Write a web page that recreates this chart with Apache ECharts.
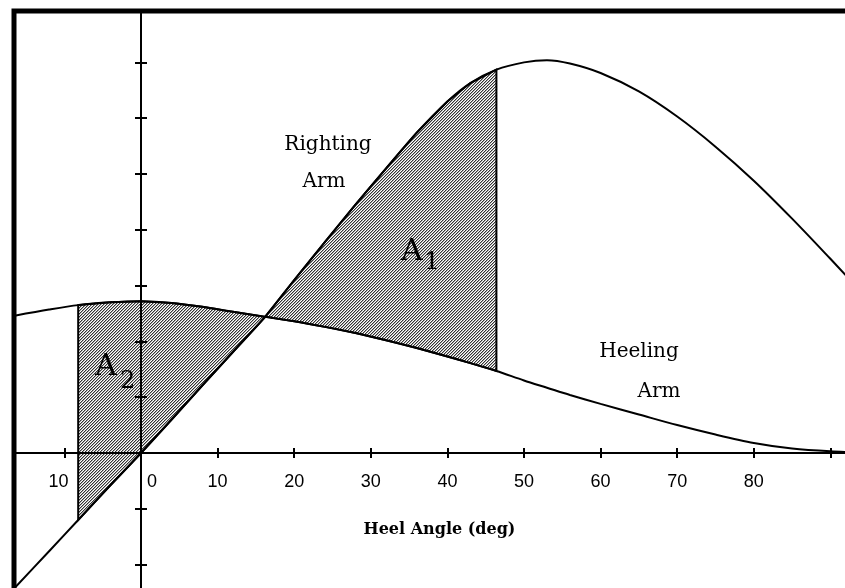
<!DOCTYPE html>
<html>
<head>
<meta charset="utf-8">
<title>Righting Arm / Heeling Arm</title>
<script src="https://cdn.jsdelivr.net/npm/echarts@6/dist/echarts.min.js"></script>
<style>
    html, body { margin: 0; padding: 0; background: #fff; }
    #main { width: 845px; height: 588px; }
</style>
</head>
<body>
<div id="main"></div>
<script>
    // heel angle (deg) at which both curves were read
    const heelAngles  = [-16.5, -12, -8.2, -4, 0, 4, 8, 12, 16.2, 20, 24, 28, 32, 36, 40, 43, 46.4, 50, 53, 56, 60, 65, 70, 75, 80, 85, 90, 94.5];
    const rightingArm = [-2.42, -1.76, -1.20, -0.58, 0, 0.60, 1.21, 1.81, 2.44, 3.10, 3.78, 4.45, 5.10, 5.74, 6.30, 6.63, 6.87, 7.00, 7.04, 6.98, 6.81, 6.48, 6.03, 5.49, 4.88, 4.20, 3.48, 2.82];
    const heelingArm  = [2.46, 2.57, 2.65, 2.70, 2.72, 2.69, 2.62, 2.53, 2.44, 2.36, 2.26, 2.15, 2.02, 1.88, 1.73, 1.61, 1.47, 1.30, 1.17, 1.04, 0.88, 0.69, 0.50, 0.33, 0.18, 0.08, 0.03, 0.01];

    // limits of the shaded areas (deg)
    const a2Start = -8.2;
    const crossAngle = 16.2;
    const a1End = 46.4;

    const xTickValues = [-10, 0, 10, 20, 30, 40, 50, 60, 70, 80];
    const xTickLabels = ['10', '0', '10', '20', '30', '40', '50', '60', '70', '80'];

    function pairs(values) {
        return heelAngles.map((a, i) => [a, values[i]]);
    }
    function between(values, from, to) {
        return pairs(values).filter(p => p[0] >= from && p[0] <= to);
    }
    // upper curve forward, lower curve back
    const areaA1 = between(rightingArm, crossAngle, a1End).concat(between(heelingArm, crossAngle, a1End).reverse());
    const areaA2 = between(heelingArm, a2Start, crossAngle).concat(between(rightingArm, a2Start, crossAngle).reverse());

    // hatching used for the areas
    const hatch = document.createElement('canvas');
    hatch.width = 3;
    hatch.height = 3;
    const hctx = hatch.getContext('2d');
    hctx.fillStyle = '#fff';
    hctx.fillRect(0, 0, 3, 3);
    for (let i = 0; i < 3; i++) {
        hctx.fillStyle = '#333';
        hctx.fillRect(i, 2 - i, 1, 1);
        hctx.fillStyle = '#aaa';
        hctx.fillRect(i, (3 - i) % 3, 1, 1);
    }

    function areaSeries(points) {
        return {
            type: 'custom',
            silent: true,
            z: -1,
            data: [[0, 0]],
            renderItem: (params, api) => ({
                type: 'polygon',
                shape: { points: points.map(p => api.coord(p)) },
                style: { fill: { image: hatch, repeat: 'repeat' }, stroke: '#000', lineWidth: 2 }
            })
        };
    }

    const black = '#000';
    const tickFont = { fontFamily: 'Liberation Sans', fontSize: 18, color: black };

    // grid runs past the right and bottom edges of the page
    const gridTop = 11, gridBottom = -20;
    const xMin = -16.58, xMax = 94.52;
    const yMin = -2.778, yMax = 7.921;
    const gridHeight = 588 - gridTop - gridBottom;
    const zeroLift = -gridHeight * (0 - yMin) / (yMax - yMin);

    const xBase = {
        type: 'value', min: xMin, max: xMax, splitNumber: 11, position: 'bottom',
        splitLine: { show: false }
    };
    const yBase = {
        type: 'value', min: yMin, max: yMax, splitNumber: 10, position: 'left',
        splitLine: { show: false }, axisLabel: { show: false }
    };

    const chart = echarts.init(document.getElementById('main'));
    chart.setOption({
        animation: false,
        grid: {
            left: 14, top: gridTop, right: -20, bottom: gridBottom,
            outerBoundsMode: 'none', containLabel: false,
            show: true, borderColor: black, borderWidth: 5
        },
        xAxis: [
            Object.assign({}, xBase, {
                axisLine: { onZero: true, onZeroAxisIndex: 0, lineStyle: { color: black, width: 2 } },
                axisTick: { length: 5, lineStyle: { color: black, width: 2 } },
                axisLabel: { show: false }
            }),
            Object.assign({}, xBase, {
                axisLine: { onZero: true, onZeroAxisIndex: 1, lineStyle: { color: black, width: 2 } },
                axisTick: { inside: true, length: 5, lineStyle: { color: black, width: 2 } },
                axisLabel: { show: false }
            }),
            // labels and name only, lifted up to the zero line
            Object.assign({}, xBase, {
                offset: zeroLift,
                axisLine: { show: false, onZero: false },
                axisTick: { show: false },
                axisLabel: Object.assign({}, tickFont, {
                    margin: 20,
                    formatter: v => {
                        const i = xTickValues.findIndex(t => Math.abs(t - v) < 1e-6);
                        if (i < 0) return '';
                        if (xTickValues[i] === 0) return '{z|' + xTickLabels[i] + '}';
                        if (xTickValues[i] < 0) return '{n|' + xTickLabels[i] + '}';
                        return xTickLabels[i];
                    },
                    rich: {
                        z: Object.assign({}, tickFont, { padding: [0, 0, 0, 22] }),
                        n: Object.assign({}, tickFont, { padding: [0, 12, 0, 0] })
                    }
                }),
                name: 'Heel Angle (deg)',
                nameLocation: 'middle',
                nameGap: 69,
                nameTextStyle: { fontFamily: 'DejaVu Serif', fontWeight: 'bold', fontSize: 16, color: black }
            })
        ],
        yAxis: [
            Object.assign({}, yBase, {
                axisLine: { show: true, onZero: true, onZeroAxisIndex: 0, lineStyle: { color: black, width: 2 } },
                axisTick: { show: true, length: 6, lineStyle: { color: black, width: 2 } }
            }),
            Object.assign({}, yBase, {
                axisLine: { show: true, onZero: true, onZeroAxisIndex: 1, lineStyle: { color: black, width: 2 } },
                axisTick: { show: true, inside: true, length: 6, lineStyle: { color: black, width: 2 } }
            })
        ],
        series: [
            areaSeries(areaA1),
            areaSeries(areaA2),
            {
                name: 'Righting Arm', type: 'line', data: pairs(rightingArm),
                showSymbol: false, smooth: 0.3, z: 3,
                lineStyle: { color: black, width: 2 }
            },
            {
                name: 'Heeling Arm', type: 'line', data: pairs(heelingArm),
                showSymbol: false, smooth: 0.3, z: 3,
                lineStyle: { color: black, width: 2 }
            }
        ],
        graphic: [
            { type: 'text', x: 328, y: 135, z: 10, style: { text: 'Righting', font: '20px "DejaVu Serif"', fill: black, align: 'center', verticalAlign: 'top' } },
            { type: 'text', x: 324, y: 172, z: 10, style: { text: 'Arm', font: '20px "DejaVu Serif"', fill: black, align: 'center', verticalAlign: 'top' } },
            { type: 'text', x: 639, y: 342, z: 10, style: { text: 'Heeling', font: '20px "DejaVu Serif"', fill: black, align: 'center', verticalAlign: 'top' } },
            { type: 'text', x: 659, y: 382, z: 10, style: { text: 'Arm', font: '20px "DejaVu Serif"', fill: black, align: 'center', verticalAlign: 'top' } },
            { type: 'text', x: 401, y: 237, z: 10, style: { text: 'A', font: '30px "DejaVu Serif"', fill: black, verticalAlign: 'top' } },
            { type: 'text', x: 424, y: 250, z: 10, style: { text: '1', font: '25px "DejaVu Serif"', fill: black, verticalAlign: 'top' } },
            { type: 'text', x: 95, y: 352, z: 10, style: { text: 'A', font: '30px "DejaVu Serif"', fill: black, verticalAlign: 'top' } },
            { type: 'text', x: 120, y: 370, z: 10, style: { text: '2', font: '24px "DejaVu Serif"', fill: black, verticalAlign: 'top' } }
        ]
    });
</script>
</body>
</html>
